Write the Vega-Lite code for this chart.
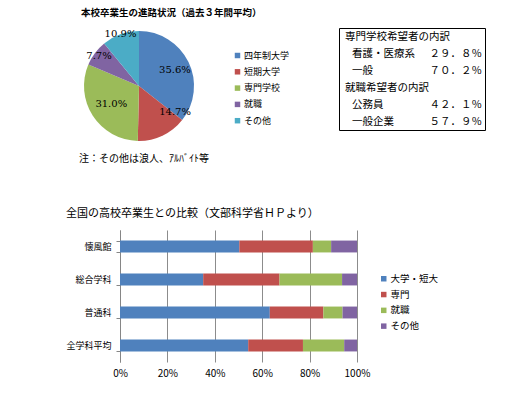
{
  "$schema": "https://vega.github.io/schema/vega-lite/v6.json",
  "background": "white",
  "padding": {"left": 65, "top": 7, "right": 0, "bottom": 0},
  "columns": 2,
  "align": "none",
  "bounds": "flush",
  "spacing": {"row": 86, "column": -18},
  "resolve": {"scale": {"color": "independent"}, "legend": {"color": "independent"}},
  "config": {
    "view": {"stroke": null},
    "font": "Noto Sans CJK JP",
    "text": {"font": "Noto Sans CJK JP", "color": "black"},
    "title": {"color": "black", "font": "Noto Sans CJK JP"},
    "axis": {"labelFont": "Noto Sans CJK JP", "labelColor": "black"},
    "legend": {"labelFont": "Noto Sans CJK JP", "labelColor": "black"}
  },
  "datasets": {
    "pie": [
      {"category": "四年制大学", "rank": 1, "share": 0.356},
      {"category": "短期大学", "rank": 2, "share": 0.147},
      {"category": "専門学校", "rank": 3, "share": 0.310},
      {"category": "就職", "rank": 4, "share": 0.077},
      {"category": "その他", "rank": 5, "share": 0.109}
    ],
    "box": [
      {"line": "専門学校希望者の内訳", "value": ""},
      {"line": "看護・医療系", "value": "２９．８％"},
      {"line": "一般", "value": "７０．２％"},
      {"line": "就職希望者の内訳", "value": ""},
      {"line": "公務員", "value": "４２．１％"},
      {"line": "一般企業", "value": "５７．９％"}
    ],
    "bar": [
      {"school": "懐風館", "type": "大学・短大", "rank": 1, "share": 50.3},
      {"school": "懐風館", "type": "専門", "rank": 2, "share": 31.0},
      {"school": "懐風館", "type": "就職", "rank": 3, "share": 7.7},
      {"school": "懐風館", "type": "その他", "rank": 4, "share": 10.9},
      {"school": "総合学科", "type": "大学・短大", "rank": 1, "share": 35.1},
      {"school": "総合学科", "type": "専門", "rank": 2, "share": 32.2},
      {"school": "総合学科", "type": "就職", "rank": 3, "share": 26.4},
      {"school": "総合学科", "type": "その他", "rank": 4, "share": 6.3},
      {"school": "普通科", "type": "大学・短大", "rank": 1, "share": 63.2},
      {"school": "普通科", "type": "専門", "rank": 2, "share": 22.6},
      {"school": "普通科", "type": "就職", "rank": 3, "share": 8.1},
      {"school": "普通科", "type": "その他", "rank": 4, "share": 6.1},
      {"school": "全学科平均", "type": "大学・短大", "rank": 1, "share": 54.1},
      {"school": "全学科平均", "type": "専門", "rank": 2, "share": 23.1},
      {"school": "全学科平均", "type": "就職", "rank": 3, "share": 17.4},
      {"school": "全学科平均", "type": "その他", "rank": 4, "share": 5.4}
    ]
  },
  "concat": [
    {
      "width": 38,
      "height": 116,
      "title": {"text": "本校卒業生の進路状況（過去３年間平均）", "anchor": "start", "frame": "group", "dx": -39, "offset": 11, "fontSize": 9.5, "fontWeight": "bold"},
      "data": {"name": "pie"},
      "layer": [
        {
          "mark": {"type": "arc", "outerRadius": 55},
          "encoding": {
            "theta": {"field": "share", "type": "quantitative", "stack": true},
            "order": {"field": "rank", "type": "quantitative"},
            "color": {
              "field": "category", "type": "nominal",
              "sort": ["四年制大学", "短期大学", "専門学校", "就職", "その他"],
              "scale": {"domain": ["四年制大学", "短期大学", "専門学校", "就職", "その他"], "range": ["#4F81BD", "#C0504D", "#9BBB59", "#8064A2", "#4BACC6"]},
              "legend": {"orient": "none", "legendX": 113, "legendY": 23, "title": null, "symbolType": "square", "symbolSize": 30, "symbolStrokeWidth": 0, "labelFontSize": 9, "rowPadding": 6.3, "padding": 0, "labelOffset": 2}
            }
          }
        },
        {
          "mark": {"type": "text", "radius": 40, "dy": 1, "font": "DejaVu Serif", "fontSize": 10},
          "encoding": {
            "theta": {"field": "share", "type": "quantitative", "stack": true},
            "order": {"field": "rank", "type": "quantitative"},
            "color": {"field": "category", "type": "nominal", "sort": ["四年制大学", "短期大学", "専門学校", "就職", "その他"]},
            "fill": {"value": "black"},
            "text": {"condition": {"test": "datum.category === '四年制大学'", "field": "share", "type": "quantitative", "format": ".1%"}, "value": ""}
          }
        },
        {
          "mark": {"type": "text", "radius": 40, "dx": 19, "dy": -10, "font": "DejaVu Serif", "fontSize": 10},
          "encoding": {
            "theta": {"field": "share", "type": "quantitative", "stack": true},
            "order": {"field": "rank", "type": "quantitative"},
            "color": {"field": "category", "type": "nominal", "sort": ["四年制大学", "短期大学", "専門学校", "就職", "その他"]},
            "fill": {"value": "black"},
            "text": {"condition": {"test": "datum.category === '短期大学'", "field": "share", "type": "quantitative", "format": ".1%"}, "value": ""}
          }
        },
        {
          "mark": {"type": "text", "radius": 33, "font": "DejaVu Serif", "fontSize": 10},
          "encoding": {
            "theta": {"field": "share", "type": "quantitative", "stack": true},
            "order": {"field": "rank", "type": "quantitative"},
            "color": {"field": "category", "type": "nominal", "sort": ["四年制大学", "短期大学", "専門学校", "就職", "その他"]},
            "fill": {"value": "black"},
            "text": {"condition": {"test": "datum.category === '専門学校'", "field": "share", "type": "quantitative", "format": ".1%"}, "value": ""}
          }
        },
        {
          "mark": {"type": "text", "radius": 50, "font": "DejaVu Serif", "fontSize": 10},
          "encoding": {
            "theta": {"field": "share", "type": "quantitative", "stack": true},
            "order": {"field": "rank", "type": "quantitative"},
            "color": {"field": "category", "type": "nominal", "sort": ["四年制大学", "短期大学", "専門学校", "就職", "その他"]},
            "fill": {"value": "black"},
            "text": {"condition": {"test": "datum.category === '就職'", "field": "share", "type": "quantitative", "format": ".1%"}, "value": ""}
          }
        },
        {
          "mark": {"type": "text", "radius": 55, "font": "DejaVu Serif", "fontSize": 10},
          "encoding": {
            "theta": {"field": "share", "type": "quantitative", "stack": true},
            "order": {"field": "rank", "type": "quantitative"},
            "color": {"field": "category", "type": "nominal", "sort": ["四年制大学", "短期大学", "専門学校", "就職", "その他"]},
            "fill": {"value": "black"},
            "text": {"condition": {"test": "datum.category === 'その他'", "field": "share", "type": "quantitative", "format": ".1%"}, "value": ""}
          }
        },
        {
          "data": {"values": [{"note": "注：その他は浪人、ｱﾙﾊﾞｲﾄ等"}]},
          "mark": {"type": "text", "dx": 5, "dy": 73, "fontSize": 10},
          "encoding": {"text": {"field": "note", "type": "nominal"}}
        }
      ]
    },
    {
      "width": 146,
      "height": 102,
      "view": {"stroke": "black", "strokeWidth": 1},
      "data": {"name": "box"},
      "encoding": {
        "y": {"field": "line", "type": "nominal", "sort": ["専門学校希望者の内訳", "看護・医療系", "一般", "就職希望者の内訳", "公務員", "一般企業"], "axis": null, "scale": {"paddingInner": 0, "paddingOuter": 0}}
      },
      "layer": [
        {
          "transform": [{"filter": "datum.value === ''"}],
          "mark": {"type": "text", "align": "left", "dx": 6, "fontSize": 10.5},
          "encoding": {
            "x": {"datum": 0, "type": "quantitative", "scale": {"domain": [0, 1]}, "axis": null},
            "text": {"field": "line", "type": "nominal"}
          }
        },
        {
          "transform": [{"filter": "datum.value !== ''"}],
          "mark": {"type": "text", "align": "left", "dx": 13, "fontSize": 10.5},
          "encoding": {
            "x": {"datum": 0, "type": "quantitative"},
            "text": {"field": "line", "type": "nominal"}
          }
        },
        {
          "mark": {"type": "text", "align": "right", "dx": -3, "fontSize": 10.5},
          "encoding": {
            "x": {"datum": 1, "type": "quantitative"},
            "text": {"field": "value", "type": "nominal"}
          }
        }
      ]
    },
    {
      "width": 237,
      "height": 132,
      "title": {"text": "全国の高校卒業生との比較（文部科学省ＨＰより）", "anchor": "start", "frame": "group", "dx": -54, "offset": 7, "fontSize": 11, "fontWeight": "normal"},
      "data": {"name": "bar"},
      "mark": {"type": "bar"},
      "encoding": {
        "y": {
          "field": "school", "type": "nominal",
          "sort": ["懐風館", "総合学科", "普通科", "全学科平均"],
          "scale": {"paddingInner": 0.64, "paddingOuter": 0.32},
          "axis": {"title": null, "tickBand": "extent", "tickSize": 4, "domainColor": "#868686", "tickColor": "#868686", "labelFontSize": 9, "labelPadding": 5, "grid": false}
        },
        "x": {
          "field": "share", "type": "quantitative", "stack": "normalize",
          "axis": {"title": null, "format": "%", "values": [0, 0.2, 0.4, 0.6, 0.8, 1], "domain": false, "ticks": false, "grid": true, "gridColor": "#8c8c8c", "labelFontSize": 10, "labelPadding": 6, "labelFlush": false}
        },
        "order": {"field": "rank", "type": "quantitative"},
        "color": {
          "field": "type", "type": "nominal",
          "sort": ["大学・短大", "専門", "就職", "その他"],
          "scale": {"domain": ["大学・短大", "専門", "就職", "その他"], "range": ["#4F81BD", "#C0504D", "#9BBB59", "#8064A2"]},
          "legend": {"orient": "none", "legendX": 259, "legendY": 44, "title": null, "symbolType": "square", "symbolSize": 30, "symbolStrokeWidth": 0, "labelFontSize": 9.5, "rowPadding": 4.8, "padding": 0, "labelOffset": 2}
        }
      }
    }
  ]
}
